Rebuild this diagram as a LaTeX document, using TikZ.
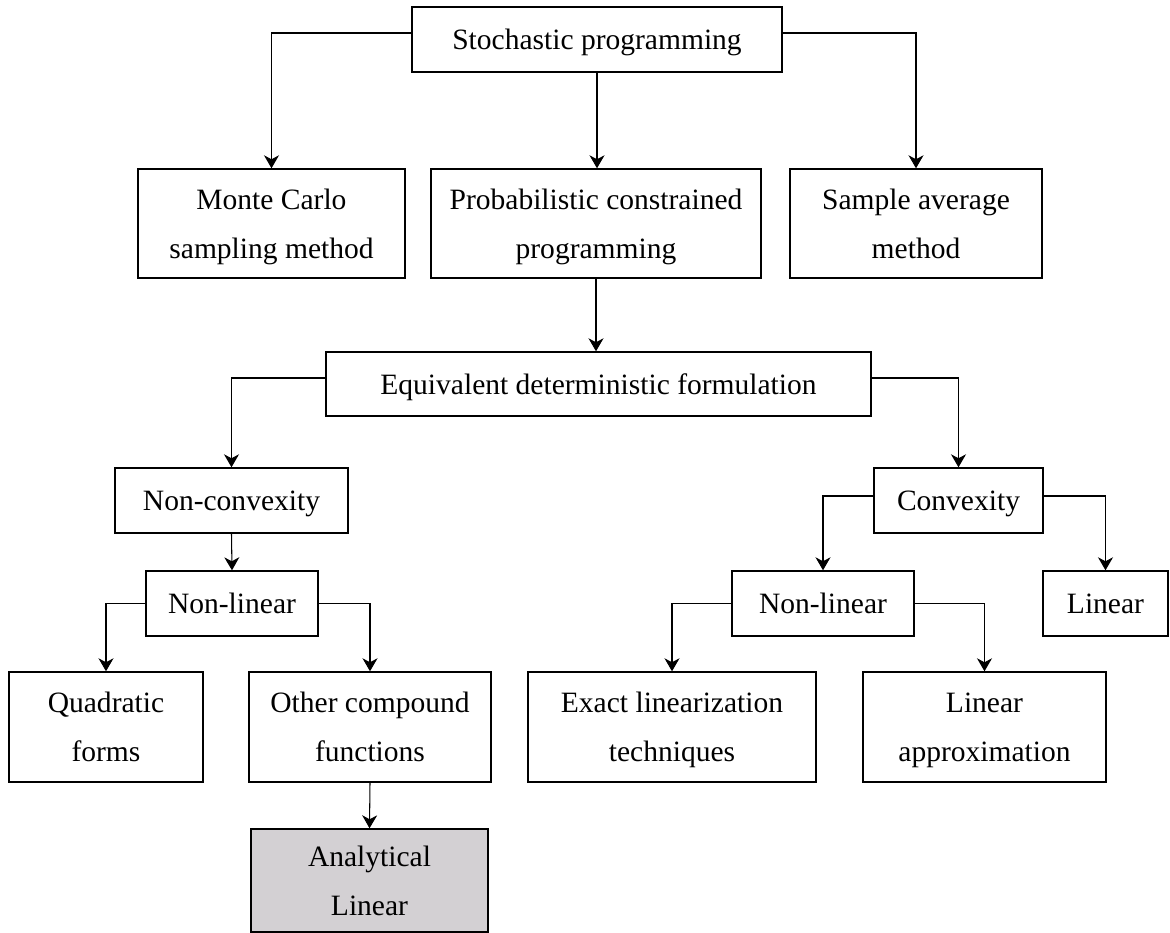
\documentclass[tikz,border=0pt]{standalone}
\usepackage{fontspec}
\setmainfont{Liberation Serif}
\usetikzlibrary{arrows.meta}
\definecolor{shadegray}{RGB}{211,208,211}
\tikzset{
  box/.style={shape=rectangle,draw=black,line width=0.8pt,align=center,inner sep=0pt,
    text depth=-0.2em,font=\fontsize{16.8}{28}\selectfont},
  conn/.style={-{Stealth[length=0.26cm,width=0.3cm,inset=0.08cm]},line width=0.6pt}
}

\begin{document}
\begin{tikzpicture}
        \useasboundingbox (0,0) rectangle (23.4,-18.66);
        % top level
        \node[box,minimum width=7.4cm,minimum height=1.3cm] (S) at (11.94,-0.79) {Stochastic programming};
        \node[box,minimum width=5.34cm,minimum height=2.18cm] (MC) at (5.43,-4.47) {Monte Carlo\\sampling method};
        \node[box,minimum width=6.6cm,minimum height=2.18cm] (PCP) at (11.92,-4.47) {Probabilistic constrained\\programming};
        \node[box,minimum width=5.04cm,minimum height=2.18cm] (SAA) at (18.32,-4.47) {Sample average\\method};
        \node[box,minimum width=10.9cm,minimum height=1.28cm] (EDF) at (11.97,-7.68) {Equivalent deterministic formulation};
        % non-convex branch
        \node[box,minimum width=4.66cm,minimum height=1.3cm] (NC) at (4.63,-10.01) {Non-convexity};
        \node[box,minimum width=3.44cm,minimum height=1.3cm] (NL1) at (4.64,-12.07) {Non-linear};
        \node[box,minimum width=3.88cm,minimum height=2.2cm] (QF) at (2.12,-14.54) {Quadratic\\forms};
        \node[box,minimum width=4.84cm,minimum height=2.2cm] (OCF) at (7.4,-14.54) {Other compound\\functions};
        \node[box,fill=shadegray,minimum width=4.74cm,minimum height=2.06cm] (AL) at (7.39,-17.61) {Analytical\\Linear};
        % convex branch
        \node[box,minimum width=3.38cm,minimum height=1.3cm] (CV) at (19.17,-10.01) {Convexity};
        \node[box,minimum width=3.64cm,minimum height=1.3cm] (NL2) at (16.46,-12.07) {Non-linear};
        \node[box,minimum width=2.5cm,minimum height=1.3cm] (LIN) at (22.11,-12.07) {Linear};
        \node[box,minimum width=5.76cm,minimum height=2.2cm] (ELT) at (13.44,-14.54) {Exact linearization\\techniques};
        \node[box,minimum width=4.86cm,minimum height=2.2cm] (LA) at (19.69,-14.54) {Linear\\approximation};

        \draw[conn] ([yshift=0.13cm]S.west) -| (MC.north);
        \draw[conn] ([yshift=0.13cm]S.east) -| (SAA.north);
        \draw[conn] (S.south) -- (S.south |- PCP.north);
        \draw[conn] (PCP.south) -- (PCP.south |- EDF.north);
        \draw[conn] ([yshift=0.12cm]EDF.west) -| (NC.north);
        \draw[conn] ([yshift=0.12cm]EDF.east) -| (CV.north);
        \draw[conn] (NC.south) -- (NL1.north);
        \draw[conn] (NL1.west) -| (QF.north);
        \draw[conn] (NL1.east) -| (OCF.north);
        \draw[conn] (OCF.south) -- (AL.north);
        \draw[conn] ([yshift=0.09cm]CV.west) -| (NL2.north);
        \draw[conn] ([yshift=0.09cm]CV.east) -| (LIN.north);
        \draw[conn] (NL2.west) -| (ELT.north);
        \draw[conn] (NL2.east) -| (LA.north);
    \end{tikzpicture}
\end{document}
